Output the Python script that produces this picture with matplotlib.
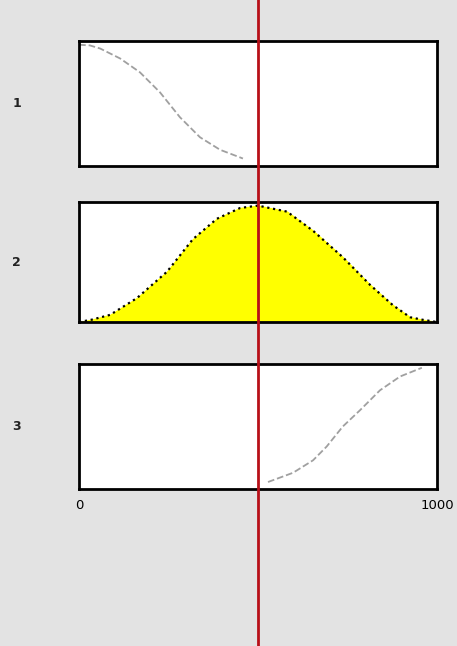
# plot.py
# Three stacked panels (fade out, window, fade in) with a red cursor line at the midpoint.

import numpy as np
import matplotlib.pyplot as plt
from matplotlib.lines import Line2D
from matplotlib.transforms import blended_transform_factory

# Values (x in samples, y as a fraction of panel height)
fade_out_x = [0, 30, 59, 115, 170, 226, 282, 338, 394, 458]
fade_out_y = [0.97, 0.965, 0.94, 0.86, 0.75, 0.59, 0.39, 0.23, 0.13, 0.06]

window_x = [0, 36, 87, 162, 246, 318, 385, 450, 500, 581, 654, 737, 813, 877, 925, 958, 1000]
window_y = [0.0, 0.02, 0.06, 0.20, 0.42, 0.69, 0.86, 0.95, 0.97, 0.92, 0.76, 0.54, 0.31, 0.14, 0.04, 0.02, 0.0]

fade_in_x = [528, 598, 654, 692, 737, 785, 841, 897, 958]
fade_in_y = [0.056, 0.13, 0.23, 0.34, 0.50, 0.63, 0.79, 0.90, 0.97]

panel_labels = ['1', '2', '3']
x_ticks = [0, 1000]
x_tick_labels = ['0', '1000']
cursor_x = 500

bg = '#e3e3e3'

fig = plt.figure(figsize=(4.57, 6.46), dpi=100, facecolor=bg)

# Axes boxes (left, bottom, width, height) in figure fraction
left, width = 0.173, 0.783
boxes = [(left, 0.743, width, 0.1935),
         (left, 0.5015, width, 0.1858),
         (left, 0.243, width, 0.1935)]

axes = []
for box, lab in zip(boxes, panel_labels):
    ax = fig.add_axes(box)
    ax.set_xlim(0, 1000)
    ax.set_ylim(0, 1)
    ax.set_xticks([])
    ax.set_yticks([])
    for sp in ax.spines.values():
        sp.set_linewidth(2)
        sp.set_color('black')
    # panel number to the left
    ax.text(-0.175, 0.5, lab, transform=ax.transAxes, fontsize=9,
            fontweight='bold', ha='center', va='center', color='#222222')
    axes.append(ax)

ax1, ax2, ax3 = axes

# Panel 1: fade out
ax1.plot(fade_out_x, fade_out_y, color='#a0a0a0', linestyle='--', linewidth=1.3)

# Panel 2: window with yellow fill
ax2.fill_between(window_x, window_y, color='#ffff00', zorder=1)
ax2.plot(window_x, window_y, color='black', linestyle=':', linewidth=1.6, zorder=2)

# Panel 3: fade in
ax3.plot(fade_in_x, fade_in_y, color='#a0a0a0', linestyle='--', linewidth=1.3)

# x tick labels under bottom panel
ax3.set_xticks(x_ticks)
ax3.set_xticklabels(x_tick_labels, fontsize=9.5)
ax3.tick_params(axis='x', length=0, pad=7)

# Red cursor line through the whole figure
trans = blended_transform_factory(ax3.transData, fig.transFigure)
fig.add_artist(Line2D([cursor_x, cursor_x], [0, 1], transform=trans,
                      color='#b81018', linewidth=2, zorder=10))

fig.savefig('out.png', dpi=100, facecolor=bg)
